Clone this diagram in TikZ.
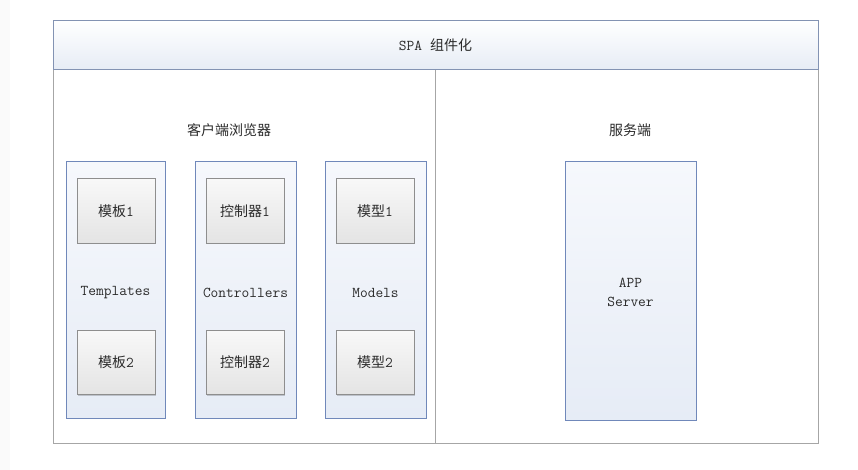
\documentclass[tikz,border=0pt]{standalone}
\usepackage{fontspec}
\newfontfamily\cjk{Noto Sans CJK SC}
\usetikzlibrary{shadows}
\definecolor{hdrborder}{HTML}{8393B3}
\definecolor{frameborder}{HTML}{A6A6A6}
\definecolor{colborder}{HTML}{7088BA}
\definecolor{boxborder}{HTML}{8E8E8E}
\definecolor{txt}{HTML}{2B2B2B}
\definecolor{hdrBot}{HTML}{E6ECF5}
\definecolor{colTop}{HTML}{F6F8FC}
\definecolor{colBot}{HTML}{E6ECF6}
\definecolor{boxTop}{HTML}{F8F8F8}
\definecolor{boxBot}{HTML}{E4E4E4}
\newcommand\lat[1]{{\ttfamily\fontsize{15}{19}\selectfont #1}}
\tikzset{
  frame/.style={draw=frameborder, line width=1pt, fill=white, inner sep=0pt, outer sep=0pt},
  header/.style={draw=hdrborder, line width=1pt, top color=white, bottom color=hdrBot, inner sep=0pt, outer sep=0pt},
  column/.style={draw=colborder, line width=1pt, top color=colTop, bottom color=colBot, inner sep=0pt, outer sep=0pt},
  inner/.style={draw=boxborder, line width=1pt, top color=boxTop, bottom color=boxBot, inner sep=0pt, outer sep=0pt,
     minimum width=78pt, minimum height=64pt,
     drop shadow={shadow xshift=1.2pt, shadow yshift=-1.2pt, fill=black, opacity=0.18}},
  lbl/.style={text=txt, font=\ttfamily\fontsize{15}{19}\selectfont, inner sep=0pt},
  clbl/.style={text=txt, font=\fontsize{14}{16}\cjk, inner sep=0pt},
}
\begin{document}
\begin{tikzpicture}[x=1pt,y=-1pt]
\useasboundingbox (0,0) rectangle (858,470);
\fill[white] (0,0) rectangle (858,470);
\fill[black!2] (0,0) rectangle (10,470);
% frames
\node[frame, minimum width=765pt, minimum height=373pt] (lower) at (435.5,256.5) {};
\node[header, minimum width=765pt, minimum height=49pt] (header) at (435.5,45.5) {};
\node[clbl] (title) at (header.center) {\lat{SPA}\hspace{8pt}组件化};
\draw[frameborder, line width=1pt] (header.south) -- (lower.south);
% section labels
\node[clbl] (client) at (229,130) {客户端浏览器};
\node[clbl] (server) at (630,130) {服务端};
% columns
\node[column, minimum width=99pt, minimum height=256pt] (tcol) at (115.5,290) {};
\node[column, minimum width=101pt, minimum height=256pt] (ccol) at (245.5,290) {};
\node[column, minimum width=101pt, minimum height=256pt] (mcol) at (375.5,290) {};
\node[lbl] (tlab) at (115.5,293) {Templates};
\node[lbl] (clab) at (245.5,293) {Controllers};
\node[lbl] (mlab) at (375.5,293) {Models};
% inner boxes
\node[inner] (t1) at (116,211) {};
\node[clbl] at (t1.center) {模板\lat{1}};
\node[inner] (t2) at (116,362.5) {};
\node[clbl] at (t2.center) {模板\lat{2}};
\node[inner] (c1) at (245,211) {};
\node[clbl] at (c1.center) {控制器\lat{1}};
\node[inner] (c2) at (245,362.5) {};
\node[clbl] at (c2.center) {控制器\lat{2}};
\node[inner] (m1) at (375,211) {};
\node[clbl] at (m1.center) {模型\lat{1}};
\node[inner] (m2) at (375,362.5) {};
\node[clbl] at (m2.center) {模型\lat{2}};
% server
\node[column, minimum width=131pt, minimum height=258pt] (app) at (630.5,291) {};
\node[lbl, align=center] (applab) at (630.5,292) {APP\\Server};
\end{tikzpicture}
\end{document}
